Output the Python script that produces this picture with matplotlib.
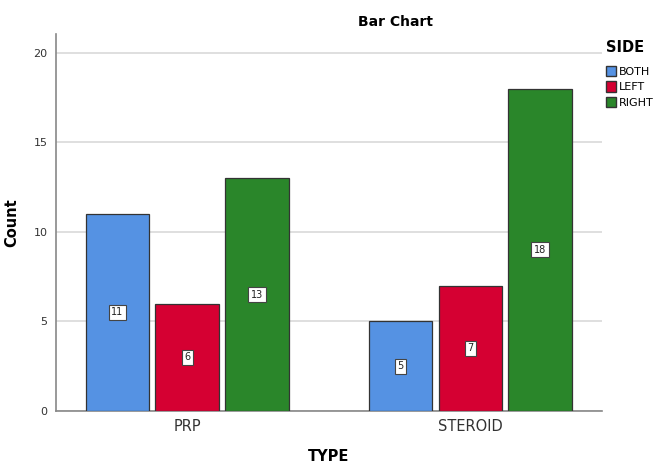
import matplotlib.pyplot as plt
import numpy as np
from matplotlib.patches import Patch

types = ['PRP', 'STEROID']
sides = ['BOTH', 'LEFT', 'RIGHT']
both = [11, 5]
left = [6, 7]
right = [13, 18]
colors = ['#5592e3', '#d50032', '#2a862a']

fig = plt.figure(figsize=(6.55, 4.63), dpi=100)
ax = fig.add_axes([0.0855, 0.1123, 0.8335, 0.8143])

x = np.arange(len(types))
step = 0.247
width = 0.223
for i, vals in enumerate([both, left, right]):
    pos = x + (i - 1) * step
    ax.bar(pos, vals, width=width, color=colors[i], edgecolor='#333333', linewidth=0.9, zorder=3)
    for p, v in zip(pos, vals):
        ax.text(p, v / 2, str(v), ha='center', va='center', fontsize=7, color='#222222',
                bbox=dict(boxstyle='square,pad=0.25', fc='white', ec='#444444', lw=0.8), zorder=4)

ax.set_xlim(-0.463, 1.466)
ax.set_ylim(0, 21.05)
ax.set_yticks([0, 5, 10, 15, 20])
ax.set_xticks(x)
ax.set_xticklabels(types, fontsize=10.5, color='#333333')
ax.tick_params(axis='y', length=0, labelsize=8, colors='#333333', pad=6)
ax.tick_params(axis='x', length=0, pad=6)
ax.grid(axis='y', color='#d9d9d9', linewidth=1.2, zorder=0)
for s in ['top', 'right']:
    ax.spines[s].set_visible(False)
for s in ['left', 'bottom']:
    ax.spines[s].set_color('#888888')
    ax.spines[s].set_linewidth(1.2)

ax.set_ylabel('Count', fontsize=10.5, fontweight='bold')
ax.yaxis.set_label_coords(-0.068, 0.5)
ax.set_xlabel('TYPE', fontsize=10.5, fontweight='bold')
ax.xaxis.set_label_coords(0.5, -0.1)
fig.text(395 / 655, 1 - 22 / 463, 'Bar Chart', ha='center', va='center', fontsize=10, fontweight='bold')

handles = [Patch(facecolor=c, edgecolor='#333333', label=s) for c, s in zip(colors, sides)]
leg = fig.legend(handles=handles, loc='upper left', bbox_to_anchor=(598 / 655, 1 - 32 / 463),
                 title='SIDE', frameon=False, fontsize=8, handlelength=0.95, handleheight=1.05,
                 handletextpad=0.2, labelspacing=0.4, borderpad=0.2)
leg.get_title().set_fontweight('bold')
leg.get_title().set_fontsize(10.5)
leg._legend_box.align = 'left'
leg._legend_box.sep = 8

fig.savefig('out.png', dpi=100)
